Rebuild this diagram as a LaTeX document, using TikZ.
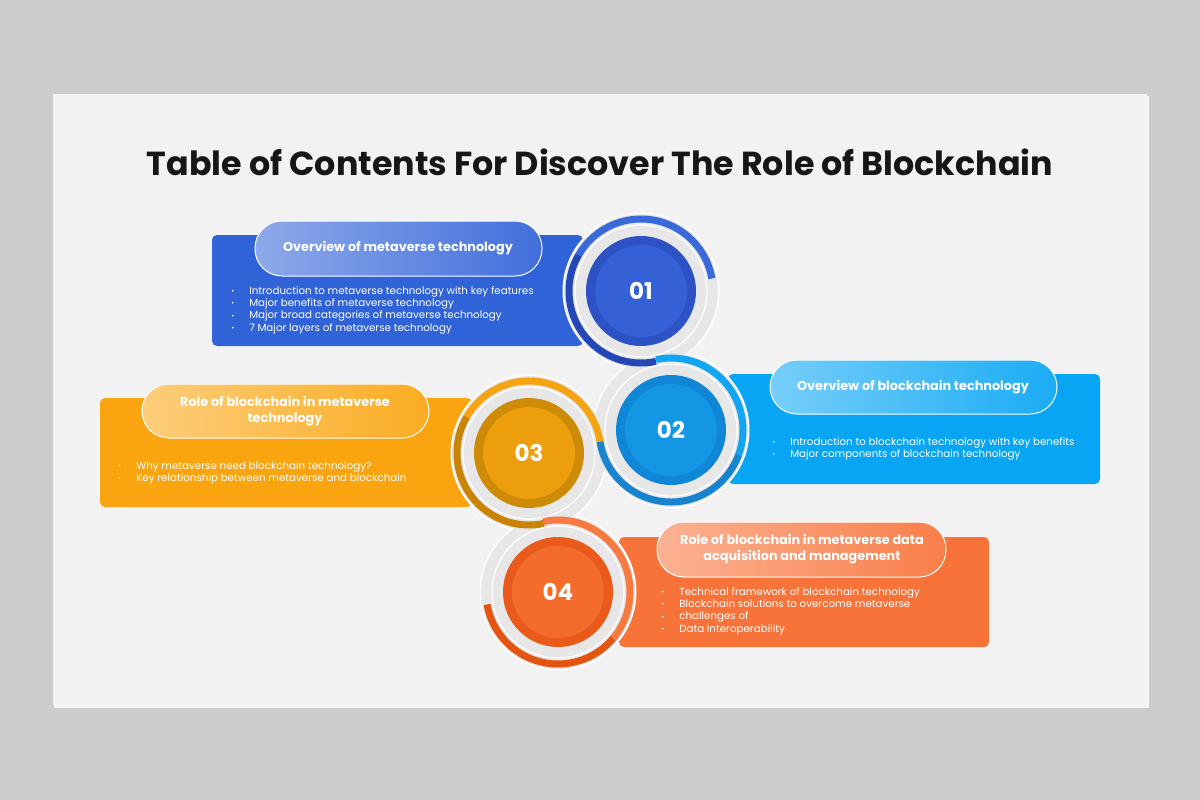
\documentclass[tikz,border=0pt]{standalone}
\usepackage{fontspec}
\setmainfont{Poppins}
\usetikzlibrary{positioning}
\definecolor{outerbg}{HTML}{CCCCCC}
\definecolor{slidebg}{HTML}{F2F2F2}
\definecolor{ringbg}{HTML}{E7E7E7}
\definecolor{titletxt}{HTML}{161616}
\definecolor{boxA}{HTML}{3163D8}
\definecolor{boxB}{HTML}{07A5F4}
\definecolor{boxC}{HTML}{FAA50F}
\definecolor{boxD}{HTML}{F8733A}
\definecolor{ringAl}{HTML}{3A6AD9}
\definecolor{ringAd}{HTML}{2447B8}
\definecolor{ringBl}{HTML}{12A6F2}
\definecolor{ringBd}{HTML}{1883CE}
\definecolor{ringCl}{HTML}{F6A312}
\definecolor{ringCd}{HTML}{C98406}
\definecolor{ringDl}{HTML}{F77B40}
\definecolor{ringDd}{HTML}{E5540E}
\definecolor{rimA}{HTML}{2C52C4}
\definecolor{coreA}{HTML}{3462D6}
\definecolor{rimB}{HTML}{0F86D6}
\definecolor{coreB}{HTML}{1396E4}
\definecolor{rimC}{HTML}{CE8B08}
\definecolor{coreC}{HTML}{EC9E0D}
\definecolor{rimD}{HTML}{EA5A1B}
\definecolor{coreD}{HTML}{F36C2C}
\newcommand\blt{\makebox[18pt][l]{\raisebox{.6pt}{\scriptsize\textbullet}}}
\begin{document}
\begin{tikzpicture}[x=1pt,y=-1pt,line width=.5pt,
    card/.style={fill=#1,rounded corners=5pt},
    pill/.style={draw=white,line width=1pt,rounded corners=27pt,left color=#1!55!white,right color=#1!92!white},
    head/.style={text=white,font=\bfseries\fontsize{12.8}{15.5}\selectfont,align=center},
    items/.style={text=white,font=\fontsize{10.3}{12.4}\selectfont,align=left,anchor=north west,inner sep=0pt},
    ring/.style={line width=7pt},
    num/.style={text=white,font=\bfseries\fontsize{23}{23}\selectfont}]
  \useasboundingbox (0,0) rectangle (1200,800);
  \fill[outerbg] (0,0) rectangle (1200,800);
  \fill[black!4] (54,96) rectangle (1149,708);
  \fill[slidebg] (53,94) rectangle (1147,705);
  \node[text=titletxt,font=\bfseries\fontsize{33.3}{38}\selectfont] (title) at (600,162) {Table of Contents For Discover The Role of Blockchain};

  \coordinate (c1) at (641,291);
  \coordinate (c2) at (671,430);
  \coordinate (c3) at (529,453);
  \coordinate (c4) at (558,592);

  \fill[card=boxA] (212,235) rectangle (583,346);
  \fill[card=boxB] (728,374) rectangle (1100,484);
  \fill[card=boxC] (100,398) rectangle (472,507);
  \fill[card=boxD] (619,537) rectangle (989,647);

  \draw[pill=boxA] (255,221) rectangle (542,276);
  \draw[pill=boxB] (770,360) rectangle (1057,414);
  \draw[pill=boxC] (142,384) rectangle (429,438);
  \draw[pill=boxD] (657,522) rectangle (946,577);

  \node[head] (h1) at (398,248) {Overview of metaverse technology};
  \node[head] (h2) at (913,387) {Overview of blockchain technology};
  \node[head] (h3) at (285,411) {Role of blockchain in metaverse\\technology};
  \node[head] (h4) at (802,549) {Role of blockchain in metaverse data\\acquisition and management};

  \node[items] (l1) at (231,286) {\blt Introduction to metaverse technology with key features\\\blt Major benefits of metaverse technology\\\blt Major broad categories of metaverse technology\\\blt 7 Major layers of metaverse technology};
  \node[items] (l2) at (772,437) {\blt Introduction to blockchain technology with key benefits\\\blt Major components of blockchain technology};
  \node[items] (l3) at (118,461) {\blt Why metaverse need blockchain technology?\\\blt Key relationship between metaverse and blockchain};
  \node[items] (l4) at (661,587) {\blt Technical framework of blockchain technology\\\blt Blockchain solutions to overcome metaverse\\\blt challenges of\\\blt Data Interoperability};

  \foreach \c in {c1,c2,c3,c4} \fill[white] (\c) circle[radius=78.5];
  \foreach \c in {c1,c2,c3,c4} \fill[ringbg] (\c) circle[radius=77];

  \draw[ring,ringAl] (c1) ++(-10:72)   arc[start angle=-10,end angle=-150,radius=72];
  \draw[ring,ringAd] (c1) ++(-150:72)  arc[start angle=-150,end angle=-282,radius=72];
  \draw[ring,ringBl] (c2) ++(-102:72)  arc[start angle=-102,end angle=20,radius=72];
  \draw[ring,ringBd] (c2) ++(20:72)    arc[start angle=20,end angle=171,radius=72];
  \draw[ring,ringCl] (c3) ++(-9:72)    arc[start angle=-9,end angle=-150,radius=72];
  \draw[ring,ringCd] (c3) ++(-150:72)  arc[start angle=-150,end angle=-282,radius=72];
  \draw[ring,ringDl] (c4) ++(-102:72)  arc[start angle=-102,end angle=40,radius=72];
  \draw[ring,ringDd] (c4) ++(40:72)    arc[start angle=40,end angle=170,radius=72];

  \foreach \c in {c1,c2,c3,c4} \draw[white,line width=1.2pt] (\c) circle[radius=66];

  \fill[rimA] (c1) circle[radius=55]; \fill[coreA] (c1) circle[radius=46];
  \fill[rimB] (c2) circle[radius=55]; \fill[coreB] (c2) circle[radius=46];
  \fill[rimC] (c3) circle[radius=55]; \fill[coreC] (c3) circle[radius=46];
  \fill[rimD] (c4) circle[radius=55]; \fill[coreD] (c4) circle[radius=46];

  \node[num] (n1) at (c1) {01};
  \node[num] (n2) at (c2) {02};
  \node[num] (n3) at (c3) {03};
  \node[num] (n4) at (c4) {04};
\end{tikzpicture}
\end{document}
